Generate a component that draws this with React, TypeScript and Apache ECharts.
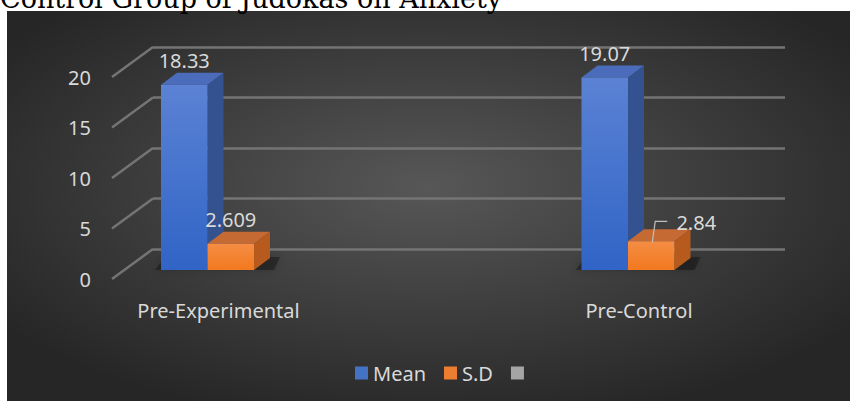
import React, { useEffect, useRef } from "react";
import * as echarts from "echarts";

const titleText = "Control Group of Judokas on Anxiety";
const categories = ["Pre-Experimental", "Pre-Control"];
const meanValues = [18.33, 19.07];
const sdValues = [2.609, 2.84];
const seriesNames = ["Mean", "S.D", " "];
const yTicks = [0, 5, 10, 15, 20];

// projection / layout constants (styles, not data)
const DEPTH_X = 16;
const DEPTH_Y = -12;
const WALL_DX = -41;
const WALL_DY = 30;
const BAR_FRAC = 0.1106;
const FONT = "'Noto Sans', sans-serif";
const TEXT_COLOR = "#d9d9d9";
const GRID_COLOR = "#747474";
const sdLabelShift: number[][] = [[0, 0], [45, 5]];
const meanLabelShift: number[][] = [[0, 0], [0, 0]];

type Palette = { frontTop: string; frontBottom: string; side: string; top: string };
const bluePal: Palette = { frontTop: "#5b82d4", frontBottom: "#3064c6", side: "#34528f", top: "#4a6cbb" };
const orangePal: Palette = { frontTop: "#f58d45", frontBottom: "#f2791e", side: "#b75a1d", top: "#c66a33" };

function makeRenderer(side: number, pal: Palette, shifts: number[][], withShadow: boolean) {
  return (params: any, api: any) => {
    const x = api.value(0);
    const v = api.value(1);
    const base = api.coord([x, 0]);
    const tp = api.coord([x, v]);
    const w = api.size([1, 0])[0] * BAR_FRAC;
    const x0 = base[0] + side * w;
    const x1 = x0 + w;
    const yb = base[1];
    const yt = tp[1];
    const children: any[] = [];
    if (withShadow) {
      const sx0 = x0 - 6;
      const sx1 = x0 + 2 * w + DEPTH_X + 10;
      children.push({
        type: "polygon",
        shape: {
          points: [
            [sx0, yb],
            [sx1 - 6, yb],
            [sx1, yb + DEPTH_Y - 1],
            [sx0 + 10, yb + DEPTH_Y - 1],
          ],
        },
        style: { fill: "rgba(0,0,0,0.32)", shadowBlur: 10, shadowColor: "rgba(0,0,0,0.6)" },
      });
    }
    children.push({
      type: "polygon",
      shape: { points: [[x1, yt], [x1 + DEPTH_X, yt + DEPTH_Y], [x1 + DEPTH_X, yb + DEPTH_Y], [x1, yb]] },
      style: { fill: pal.side },
    });
    children.push({
      type: "polygon",
      shape: { points: [[x0, yt], [x0 + DEPTH_X, yt + DEPTH_Y], [x1 + DEPTH_X, yt + DEPTH_Y], [x1, yt]] },
      style: { fill: pal.top },
    });
    children.push({
      type: "rect",
      shape: { x: x0, y: yt, width: w, height: yb - yt },
      style: {
        fill: new echarts.graphic.LinearGradient(0, 0, 0, 1, [
          { offset: 0, color: pal.frontTop },
          { offset: 1, color: pal.frontBottom },
        ]),
      },
    });
    const sh = shifts[params.dataIndex] || [0, 0];
    const cx = (x0 + x1) / 2;
    const ly = yt + DEPTH_Y - 12 + sh[1];
    if (sh[0] !== 0) {
      children.push({
        type: "polyline",
        shape: { points: [[cx + 1, yt + 1], [cx + 4, ly - 1], [cx + 16, ly - 1]] },
        style: { stroke: "#bfbfbf", lineWidth: 1.2, fill: "none" },
      });
    }
    children.push({
      type: "text",
      x: cx + sh[0],
      y: ly,
      style: {
        text: String(v),
        fill: TEXT_COLOR,
        fontSize: 20,
        fontFamily: FONT,
        align: "center",
        verticalAlign: "middle",
      },
    });
    return { type: "group", children };
  };
}

export default function App() {
  const ref = useRef<HTMLDivElement>(null);
  useEffect(() => {
    if (!ref.current) return;
    const chart = echarts.init(ref.current, undefined, { renderer: "svg" });
    const option: any = {
      animation: false,
      backgroundColor: "#ffffff",
      title: {
        text: titleText,
        left: 0,
        top: -15,
        padding: 0,
        textStyle: { fontFamily: "'DejaVu Serif', serif", fontSize: 27, fontWeight: "normal", color: "#000000" },
      },
      graphic: [
        {
          type: "rect",
          z: -10,
          silent: true,
          shape: { x: 7, y: 11, width: 843, height: 390 },
          style: {
            fill: new echarts.graphic.RadialGradient(0.5, 0.45, 0.62, [
              { offset: 0, color: "#575757" },
              { offset: 1, color: "#262626" },
            ]),
          },
        },
      ],
      legend: {
        left: 350,
        top: 358,
        itemWidth: 13,
        itemHeight: 13,
        itemGap: 18,
        icon: "rect",
        textStyle: { color: TEXT_COLOR, fontSize: 20, fontFamily: FONT },
        data: [
          { name: seriesNames[0], itemStyle: { color: "#4472c4" } },
          { name: seriesNames[1], itemStyle: { color: "#ed7d31" } },
          { name: seriesNames[2], itemStyle: { color: "#a5a5a5" } },
        ],
      },
      grid: [
        { left: 207.5, right: 222, top: 68, height: 202 },
        { left: 153, right: 65, top: 47, height: 202 },
        { left: 153 + WALL_DX, width: 300, top: 47 + WALL_DY, height: 202 },
      ],
      xAxis: [
        {
          gridIndex: 0,
          type: "value",
          min: 0,
          max: 1,
          interval: 1,
          axisLine: { show: false },
          axisTick: { show: false },
          splitLine: { show: false },
          axisLabel: {
            show: true,
            showMinLabel: true,
            showMaxLabel: true,
            margin: 30,
            padding: [0, 0, 0, 22],
            color: TEXT_COLOR,
            fontSize: 20,
            fontFamily: FONT,
            formatter: (val: number) => categories[Math.round(val)] ?? "",
          },
        },
        { gridIndex: 1, type: "value", min: 0, max: 1, show: false },
        { gridIndex: 2, type: "value", min: 0, max: 1, show: false },
      ],
      yAxis: [
        { gridIndex: 0, type: "value", min: 0, max: 20, interval: 5, show: false },
        {
          gridIndex: 1,
          type: "value",
          min: 0,
          max: 20,
          interval: 5,
          axisLine: { show: false },
          axisTick: { show: false },
          axisLabel: { show: false },
          splitLine: { show: true, lineStyle: { color: GRID_COLOR, width: 2.5 } },
        },
        {
          gridIndex: 2,
          type: "value",
          min: 0,
          max: 20,
          interval: 5,
          axisLine: { show: false },
          axisTick: { show: false },
          splitLine: { show: false },
          axisLabel: { margin: 21, color: TEXT_COLOR, fontSize: 20, fontFamily: FONT, padding: [4, 0, 0, 0] },
        },
      ],
      series: [
        {
          type: "custom",
          name: "wall",
          xAxisIndex: 1,
          yAxisIndex: 1,
          silent: true,
          data: yTicks.map((t) => [0, t]),
          renderItem: (params: any, api: any) => {
            const p = api.coord([0, api.value(1)]);
            return {
              type: "line",
              shape: { x1: p[0] + WALL_DX, y1: p[1] + WALL_DY, x2: p[0], y2: p[1] },
              style: { stroke: GRID_COLOR, lineWidth: 2.5 },
            };
          },
        },
        {
          type: "custom",
          name: seriesNames[0],
          xAxisIndex: 0,
          yAxisIndex: 0,
          itemStyle: { color: "#4472c4" },
          data: meanValues.map((v, i) => [i, v]),
          renderItem: makeRenderer(-1, bluePal, meanLabelShift, true),
        },
        {
          type: "custom",
          name: seriesNames[1],
          xAxisIndex: 0,
          yAxisIndex: 0,
          itemStyle: { color: "#ed7d31" },
          data: sdValues.map((v, i) => [i, v]),
          renderItem: makeRenderer(0, orangePal, sdLabelShift, false),
        },
        {
          type: "custom",
          name: seriesNames[2],
          xAxisIndex: 0,
          yAxisIndex: 0,
          itemStyle: { color: "#a5a5a5" },
          data: [],
          renderItem: () => null,
        },
      ],
    };
    chart.setOption(option);
    return () => chart.dispose();
  }, []);
  return <div ref={ref} style={{ position: "absolute", left: 0, top: 0, width: 850, height: 401 }} />;
}
